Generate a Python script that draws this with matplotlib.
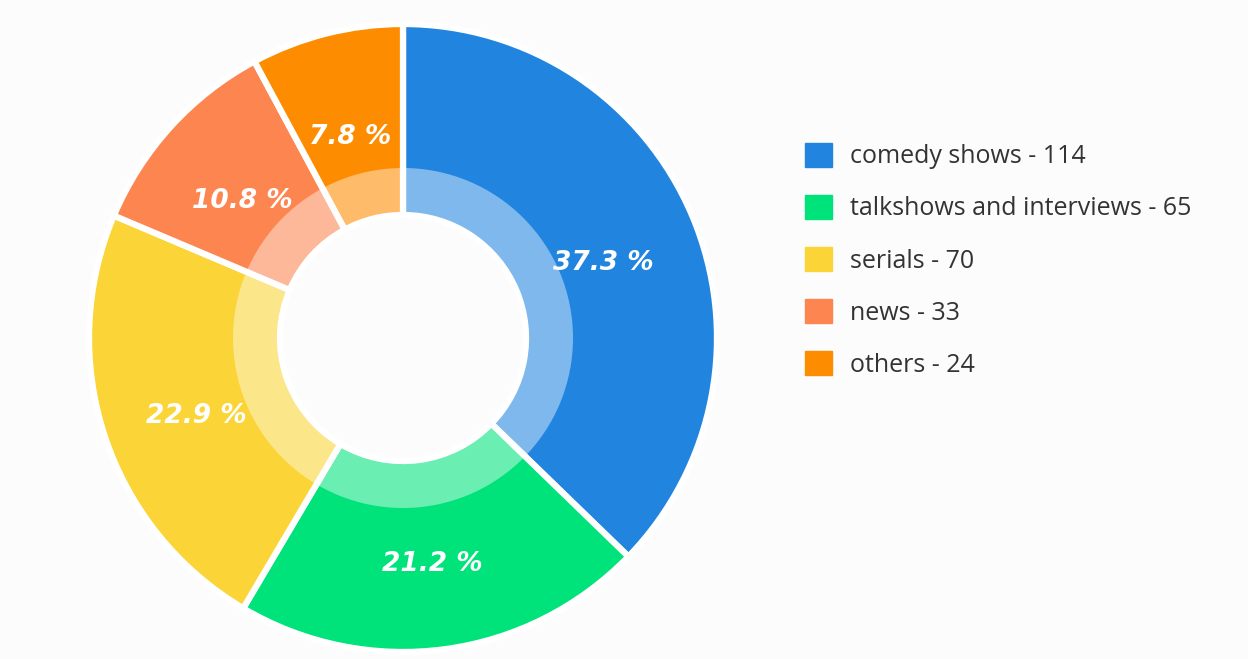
import matplotlib
matplotlib.use("Agg")
import matplotlib.pyplot as plt
from matplotlib.patches import Wedge
from matplotlib.transforms import ScaledTranslation

categories = ["comedy shows", "talkshows and interviews", "serials", "news", "others"]
counts = [114, 65, 70, 33, 24]
colors = ["#2185e0", "#00e37a", "#fbd437", "#fd8550", "#fe8c00"]

W, H = 1248, 659
BG = "#fcfcfc"

fig = plt.figure(figsize=(W / 100, H / 100), dpi=100)
fig.set_facecolor(BG)

# square axes centred on the donut, 1 data unit = 320 px
cx, cy, half = 403, H - 338, 320
ax = fig.add_axes([(cx - half) / W, (cy - half) / H, 2 * half / W, 2 * half / H])

R = 314 / half
r_light = 170 / half
r_hole = 123 / half
total = sum(counts)

wedges, texts = ax.pie(
    counts, colors=colors, radius=R, startangle=90, counterclock=False,
    labels=[f"{100 * v / total:.1f} %" for v in counts], labeldistance=218 / 314,
    wedgeprops=dict(width=R - r_hole, edgecolor="white", linewidth=4.5),
    textprops=dict(color="white", fontsize=19, fontweight="bold",
                   fontstyle="italic", ha="center", va="center"))
nudge = ScaledTranslation(0, -0.10, fig.dpi_scale_trans)
for t in texts:
    t.set_ha("center")
    t.set_transform(t.get_transform() + nudge)

# pale inner band: translucent white over the wedges
ax.add_patch(Wedge((0, 0), r_light, 0, 360, width=r_light - r_hole,
                   facecolor=(1, 1, 1, 0.42), edgecolor="none"))

ax.set_xlim(-1, 1); ax.set_ylim(-1, 1)
ax.set_aspect("equal")
ax.axis("off")

handles = [plt.Rectangle((0, 0), 1, 1, color=c) for c in colors]
labels = [f"{c} - {v}" for c, v in zip(categories, counts)]
leg = fig.legend(handles, labels, loc="upper left",
                 bbox_to_anchor=(805 / W, 1 - 143 / H), frameon=False,
                 prop=dict(family="Open Sans", size=18), handlelength=1.08,
                 handleheight=1.08, handletextpad=0.72, labelspacing=1.03,
                 borderpad=0, borderaxespad=0, labelcolor="#333333")

fig.savefig("out.png", dpi=100, facecolor=fig.get_facecolor())
